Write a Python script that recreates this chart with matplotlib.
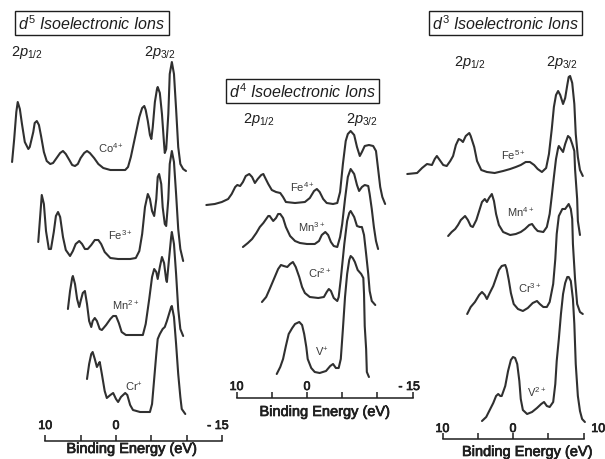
import matplotlib
matplotlib.use("Agg")
import matplotlib.pyplot as plt
import matplotlib.patheffects as pe

plt.rcParams['font.family'] = ['Liberation Sans', 'DejaVu Sans']
plt.rcParams['mathtext.fontset'] = 'custom'
plt.rcParams['mathtext.rm'] = 'Liberation Sans'
plt.rcParams['mathtext.it'] = 'Liberation Sans:italic'
plt.rcParams['mathtext.bf'] = 'Liberation Sans:bold'

# binding energy (eV) and intensity (arb. units, above each trace's own baseline)

# d5 ions
co4_energy = [14.7, 14.4, 14.1, 13.9, 13.6, 13.3, 12.9, 12.4, 12.2, 11.7,
              11.5, 11.2, 10.9, 10.6, 10.2, 9.8, 9.3, 8.9, 8.3, 7.9,
              7.5, 7.1, 6.6, 6.2, 5.8, 5.4, 5.0, 4.5, 4.1, 3.7,
              3.1, 2.5, 1.8, 0.8, -0.3, -1.3, -1.7, -2.1, -2.7, -3.3,
              -3.7, -4.0, -4.2, -4.5, -4.8, -5.0, -5.2, -5.5, -5.8, -5.9,
              -6.2, -6.5, -6.8, -6.9, -7.1, -7.4, -7.6, -7.9, -8.2, -8.5,
              -8.8, -9.1, -9.5, -9.9]
co4_counts = [0.8, 3.1, 5.8, 6.8, 6.1, 4.6, 2.8, 2.1, 2.3, 3.8,
              4.7, 4.9, 4.5, 3.4, 1.8, 0.9, 0.6, 0.7, 1.3, 1.7,
              1.9, 1.6, 1.0, 0.5, 0.4, 0.6, 1.2, 1.7, 1.9, 1.7,
              1.2, 0.6, 0.2, 0.0, 0.0, 0.0, 0.3, 1.3, 3.3, 5.3,
              6.2, 6.4, 6.0, 4.9, 3.5, 3.1, 4.3, 6.8, 8.1, 8.3,
              7.7, 5.6, 2.6, 1.7, 2.1, 5.6, 9.6, 10.8, 9.6, 6.1,
              2.3, 0.6, 0.1, -0.1]

fe3_energy = [11.0, 10.7, 10.5, 10.2, 9.9, 9.5, 9.2, 8.8, 8.5, 8.2,
              7.9, 7.5, 7.1, 6.5, 6.1, 5.7, 5.2, 4.8, 4.4, 4.0,
              3.5, 3.0, 2.5, 2.1, 1.6, 0.8, -0.3, -2.0, -2.8, -3.3,
              -3.7, -4.1, -4.5, -4.8, -5.1, -5.4, -5.7, -5.9, -6.1, -6.4,
              -6.6, -6.9, -7.1, -7.4, -7.6, -7.9, -8.2, -8.5, -8.8, -9.1,
              -9.5]
fe3_counts = [1.7, 4.5, 6.4, 5.5, 2.8, 1.0, 1.0, 2.7, 4.3, 4.7,
              4.2, 2.2, 0.9, 0.3, 0.8, 1.5, 1.8, 1.5, 1.0, 1.0,
              1.4, 1.9, 1.9, 1.5, 0.7, 0.1, 0.0, 0.0, 0.1, 0.8,
              2.5, 5.2, 6.5, 6.0, 4.8, 4.3, 6.0, 8.2, 8.5, 7.5,
              5.2, 3.5, 3.3, 6.0, 9.5, 10.8, 9.7, 6.5, 3.0, 1.0,
              -0.2]

mn2_energy = [6.8, 6.5, 6.2, 6.1, 5.8, 5.5, 5.2, 5.0, 4.7, 4.4,
              4.1, 3.8, 3.5, 3.3, 3.0, 2.7, 2.3, 2.0, 1.4, 0.8,
              0.4, 0.0, -0.4, -0.8, -1.4, -2.7, -3.8, -4.2, -4.7, -5.1,
              -5.4, -5.7, -5.9, -6.2, -6.5, -6.8, -7.1, -7.2, -7.5, -7.8,
              -7.9, -8.2, -8.5, -8.8, -9.1, -9.5]
mn2_counts = [2.6, 4.4, 5.7, 5.9, 5.1, 3.6, 2.8, 3.4, 4.2, 4.4,
              3.1, 1.4, 0.8, 1.4, 1.7, 1.4, 0.6, 0.5, 1.0, 1.6,
              1.9, 1.9, 1.2, 0.3, 0.0, 0.0, 0.0, 1.1, 3.6, 5.8,
              6.6, 6.3, 5.6, 6.8, 7.8, 7.2, 5.5, 5.3, 7.6, 9.8,
              10.3, 9.1, 6.1, 2.6, 0.6, -0.1]

cr1_energy = [4.1, 3.8, 3.5, 3.3, 3.0, 2.7, 2.4, 2.3, 2.0, 1.6,
              1.3, 0.8, 0.4, 0.0, -0.3, -0.7, -1.3, -1.6, -2.0, -2.4,
              -3.4, -4.8, -5.1, -5.4, -5.7, -5.9, -6.2, -6.6, -6.9, -7.2,
              -7.5, -7.8, -7.9, -8.2, -8.5, -8.8, -9.1, -9.3, -9.8]
cr1_counts = [3.4, 4.9, 5.9, 6.1, 5.4, 4.6, 5.0, 5.1, 3.9, 2.2,
              1.5, 1.8, 2.0, 1.4, 1.1, 1.6, 2.0, 1.8, 0.8, 0.3,
              0.1, 0.1, 0.9, 3.4, 5.9, 7.4, 7.9, 8.4, 8.6, 9.2,
              9.9, 10.6, 10.7, 9.6, 6.9, 3.9, 1.6, 0.4, -0.1]

# d4 ions
fe4_energy = [14.3, 13.1, 12.1, 11.2, 10.7, 10.2, 9.9, 9.5, 9.1, 8.7,
              8.2, 7.8, 7.4, 7.0, 6.5, 6.2, 6.0, 5.5, 5.0, 4.4,
              3.8, 3.4, 3.0, 1.7, 0.3, -0.4, -1.0, -1.4, -1.8, -2.3,
              -2.8, -3.7, -4.3, -4.7, -5.1, -5.5, -5.8, -6.2, -6.7, -7.1,
              -7.5, -7.8, -8.2, -8.8, -9.4, -9.8, -10.1, -10.4, -10.7, -11.1]
fe4_counts = [-0.1, 0.0, 0.2, 0.5, 1.0, 1.7, 1.9, 1.8, 2.2, 2.8,
              3.0, 2.7, 2.1, 2.5, 2.9, 3.0, 2.7, 2.0, 1.4, 1.2,
              1.1, 0.7, 0.2, 0.1, 0.2, 0.6, 1.3, 1.5, 1.2, 0.5,
              0.1, 0.0, 0.1, 1.2, 4.0, 6.3, 7.0, 7.3, 6.9, 5.7,
              4.8, 5.2, 5.8, 5.9, 5.8, 5.3, 3.5, 1.7, 0.7, 0.0]

mn3_energy = [9.1, 8.4, 7.8, 7.2, 6.7, 6.2, 5.8, 5.5, 5.3, 4.8,
              4.4, 4.1, 3.8, 3.4, 3.0, 2.4, 1.7, 1.0, 0.0, -1.1,
              -1.7, -2.1, -2.6, -3.0, -3.4, -3.8, -4.3, -4.7, -5.0, -5.4,
              -5.8, -6.2, -6.7, -7.1, -7.4, -7.8, -8.2, -8.7, -8.9, -9.2,
              -9.5, -9.8, -10.1]
mn3_counts = [0.0, 0.4, 0.8, 1.4, 2.0, 2.4, 2.8, 3.1, 3.1, 2.6,
              2.9, 3.3, 3.3, 2.9, 2.0, 1.1, 0.6, 0.4, 0.3, 0.3,
              0.6, 1.2, 1.5, 1.2, 0.5, 0.1, 0.0, 1.0, 2.3, 4.8,
              7.0, 7.8, 7.3, 6.2, 5.6, 6.0, 6.2, 6.1, 5.3, 3.8,
              2.0, 0.6, -0.2]

cr2_energy = [6.4, 5.8, 5.3, 4.7, 4.1, 3.7, 3.3, 2.8, 2.4, 2.0,
              1.6, 1.1, 0.7, 0.3, -0.4, -1.6, -2.4, -2.8, -3.1, -3.4,
              -3.8, -4.3, -4.5, -4.8, -5.3, -5.7, -6.0, -6.2, -6.7, -7.1,
              -7.5, -7.8, -8.1, -8.4, -8.7, -8.9, -9.2, -9.7]
cr2_counts = [0.2, 0.7, 1.5, 2.5, 3.5, 3.9, 3.8, 3.7, 4.0, 4.2,
              3.7, 2.7, 1.7, 1.1, 0.7, 0.6, 0.7, 1.2, 1.5, 1.3,
              0.6, 0.3, 0.7, 2.5, 6.0, 8.3, 9.1, 9.3, 8.7, 7.8,
              7.7, 7.7, 6.9, 5.0, 3.0, 1.3, 0.3, -0.1]

v1_energy = [4.3, 3.8, 3.4, 3.0, 2.6, 2.1, 1.7, 1.1, 0.7, 0.4,
             0.1, -0.1, -0.6, -1.1, -1.8, -2.7, -3.3, -3.7, -4.1, -4.5,
             -4.8, -5.1, -5.4, -5.7, -6.0, -6.2, -6.5, -6.8, -7.2, -7.7,
             -8.0, -8.1, -8.2, -8.4, -8.5, -8.8]
v1_counts = [0.0, 0.7, 1.5, 2.8, 4.0, 4.6, 5.0, 5.2, 4.9, 4.0,
             2.7, 1.5, 0.6, 0.2, 0.1, 0.3, 0.8, 1.0, 0.6, 0.6,
             1.5, 4.5, 7.7, 10.0, 11.4, 11.8, 11.6, 11.2, 10.4, 10.0,
             9.6, 8.0, 4.8, 2.5, 0.2, -0.3]

# d3 ions
fe5_energy = [15.0, 13.6, 12.9, 12.2, 11.5, 11.1, 10.8, 10.4, 9.9, 9.4,
              8.9, 8.5, 8.1, 7.7, 7.4, 7.1, 6.7, 6.2, 6.0, 5.5,
              5.1, 4.5, 3.7, 2.6, 1.4, 0.4, -0.4, -1.1, -1.8, -2.4,
              -3.0, -3.5, -4.1, -4.7, -5.1, -5.5, -5.8, -6.1, -6.4, -6.7,
              -7.1, -7.4, -7.7, -7.9, -8.1, -8.4, -8.7, -8.9, -9.2, -9.5,
              -9.9]
fe5_counts = [-0.1, 0.0, 0.5, 0.9, 0.8, 1.4, 1.7, 1.3, 0.8, 0.7,
              1.2, 1.7, 2.8, 3.4, 3.3, 3.1, 3.7, 4.0, 3.7, 2.6,
              1.2, 0.3, 0.1, 0.0, 0.2, 0.4, 0.6, 0.8, 1.1, 1.1,
              0.8, 0.4, 0.1, 0.5, 1.9, 4.4, 6.6, 7.8, 8.2, 7.8,
              6.9, 7.5, 8.8, 9.6, 9.7, 9.0, 6.9, 3.9, 1.6, 0.3,
              -0.3]

mn4_energy = [9.2, 8.7, 8.2, 7.8, 7.4, 6.8, 6.4, 6.0, 5.7, 5.2,
              4.8, 4.4, 4.0, 3.7, 3.4, 3.0, 2.7, 2.4, 2.0, 1.4,
              0.4, -0.4, -1.1, -1.7, -2.3, -2.7, -3.1, -3.5, -4.3, -4.8,
              -5.2, -5.5, -5.8, -6.1, -6.4, -6.5, -6.8, -7.1, -7.4, -7.8,
              -8.1, -8.4, -8.7, -8.8, -9.1, -9.2, -9.5]
mn4_counts = [-0.1, 0.3, 0.6, 1.0, 1.5, 1.9, 1.5, 0.9, 0.8, 1.5,
              2.4, 3.3, 3.6, 3.3, 3.7, 4.1, 3.4, 2.1, 1.0, 0.3,
              0.0, 0.1, 0.3, 0.6, 1.0, 1.1, 0.7, 0.4, 0.3, 0.8,
              2.1, 3.9, 5.8, 7.6, 8.7, 8.9, 8.6, 8.3, 9.1, 9.9,
              9.7, 9.1, 8.4, 6.6, 3.6, 1.4, 0.0]

cr3_energy = [6.5, 6.0, 5.4, 4.8, 4.4, 4.0, 3.7, 3.3, 2.8, 2.4,
              2.0, 1.6, 1.1, 0.9, 0.6, 0.3, -0.1, -0.7, -1.4, -2.1,
              -2.8, -3.4, -3.8, -4.3, -4.8, -5.2, -5.7, -6.0, -6.2, -6.5,
              -7.0, -7.4, -7.7, -7.9, -8.2, -8.4, -8.5, -8.8, -9.1, -9.5,
              -9.9]
cr3_counts = [-0.3, 0.4, 0.9, 1.6, 1.9, 1.6, 1.2, 1.8, 2.5, 3.3,
              4.1, 4.5, 4.6, 4.2, 3.1, 1.8, 0.7, 0.2, 0.0, 0.3,
              0.8, 1.0, 0.7, 0.4, 0.4, 0.9, 2.7, 5.2, 7.7, 9.5,
              10.2, 10.2, 10.5, 10.7, 10.2, 9.2, 6.7, 3.2, 0.7, -0.1,
              -0.3]

v2_energy = [4.4, 3.8, 3.3, 2.8, 2.4, 2.1, 1.8, 1.6, 1.1, 0.7,
             0.3, 0.0, -0.3, -0.6, -0.9, -1.1, -1.4, -2.0, -2.7, -3.4,
             -4.0, -4.4, -4.8, -5.2, -5.7, -6.0, -6.2, -6.5, -6.8, -7.1,
             -7.4, -7.7, -7.9, -8.2, -8.5, -8.7, -8.9, -9.2, -9.5, -9.8,
             -10.2]
v2_counts = [-0.7, -0.3, 0.4, 1.1, 1.8, 2.0, 1.8, 1.8, 2.8, 4.3,
             5.4, 5.7, 5.6, 5.0, 3.3, 1.5, 0.4, 0.0, 0.2, 0.6,
             1.0, 1.2, 0.8, 0.7, 1.2, 3.0, 5.3, 7.5, 10.0, 12.0,
             13.1, 13.7, 13.7, 13.3, 11.5, 9.0, 5.0, 1.8, 0.3, -0.5,
             -0.8]

d5_labels = ['Co$^{4+}$', 'Fe$^{3+}$', 'Mn$^{2+}$', 'Cr$^{+}$']
d4_labels = ['Fe$^{4+}$', 'Mn$^{3+}$', 'Cr$^{2+}$', 'V$^{+}$']
d3_labels = ['Fe$^{5+}$', 'Mn$^{4+}$', 'Cr$^{3+}$', 'V$^{2+}$']

LINE = '#303030'
INK = '#1e1e1e'
W, H = 605, 460
heavy = [pe.withStroke(linewidth=0.5, foreground=INK)]

fig = plt.figure(figsize=(6.05, 4.6), dpi=100)
fig.patch.set_facecolor('white')


def panel(px_left, px_right, zero_px, px_per_ev):
    ax = fig.add_axes([px_left / W, 0, (px_right - px_left) / W, 1])
    ax.set_xlim((zero_px - px_left) / px_per_ev, (zero_px - px_right) / px_per_ev)
    ax.set_ylim(0, 46)
    ax.patch.set_visible(False)
    for s in ['top', 'left', 'right']:
        ax.spines[s].set_visible(False)
    ax.yaxis.set_visible(False)
    return ax


def energy_axis(ax, axis_y, hi, lo, ticks, ticklabels, lab_y, xlab_x, xlab_y):
    sp = ax.spines['bottom']
    sp.set_position(('data', axis_y))
    sp.set_bounds(lo, hi)
    sp.set_linewidth(1.1)
    sp.set_color(INK)
    ax.set_xticks(ticks)
    ax.tick_params(axis='x', direction='in', length=4, width=1.1,
                   color=INK, labelbottom=False)
    for e, t in ticklabels:
        ax.text(e, lab_y, t, ha='center', va='center', fontsize=9, color=INK,
                path_effects=heavy)
    ax.text(xlab_x, xlab_y, 'Binding Energy (eV)', ha='center', va='center',
            fontsize=10.5, color=INK, path_effects=heavy)


def header(ax, title, tx, ty, p12x, p32x, py):
    ax.text(tx, ty, title, ha='center', va='center', fontsize=11.5,
            style='italic', color=INK,
            bbox=dict(boxstyle='square,pad=0.18', fc='white', ec=INK, lw=1.0))
    ax.text(p12x, py, r'2$p_{1/2}$', ha='center', va='center', fontsize=10.5, color=INK)
    ax.text(p32x, py, r'2$p_{3/2}$', ha='center', va='center', fontsize=10.5, color=INK)


def trace(ax, energy, counts, offset, label, lx, ly):
    ax.plot(energy, [offset + c for c in counts], color=LINE, lw=1.5,
            solid_joinstyle='round', solid_capstyle='round')
    ax.text(lx, ly, label, ha='center', va='center', fontsize=8, color='#3a3a3a')


# left: d5
ax1 = panel(0, 230, 116, 7.07)
header(ax1, r'$d^{5}$ Isoelectronic Ions', 3.4, 43.6, 12.6, -6.2, 40.8)
trace(ax1, co4_energy, co4_counts, 28.9, d5_labels[0], 0.7, 31.2)
trace(ax1, fe3_energy, fe3_counts, 20.0, d5_labels[1], -0.6, 22.5)
trace(ax1, mn2_energy, mn2_counts, 12.4, d5_labels[2], -1.3, 15.5)
trace(ax1, cr1_energy, cr1_counts, 4.6, d5_labels[3], -2.5, 7.3)
energy_axis(ax1, 1.8, 10, -15, [10, 5, 0, -5, -10, -15],
            [(10, '10'), (0, '0'), (-14.4, '- 15')], 3.3, -2.3, 1.0)

# middle: d4
ax2 = panel(200, 430, 307, 7.04)
header(ax2, r'$d^{4}$ Isoelectronic Ions', 0.6, 36.8, 6.8, -7.8, 34.1)
trace(ax2, fe4_energy, fe4_counts, 25.5, d4_labels[0], 0.6, 27.3)
trace(ax2, mn3_energy, mn3_counts, 21.2, d4_labels[1], -0.6, 23.3)
trace(ax2, cr2_energy, cr2_counts, 15.5, d4_labels[2], -1.8, 18.7)
trace(ax2, v1_energy, v1_counts, 8.5, d4_labels[3], -2.1, 10.8)
energy_axis(ax2, 6.1, 10, -15, [10, 5, 0, -5, -10, -15],
            [(10, '10'), (0, '0'), (-14.5, '- 15')], 7.2, -2.6, 4.7)

# right: d3
ax3 = panel(400, 605, 513, 7.05)
header(ax3, r'$d^{3}$ Isoelectronic Ions', 1.1, 43.6, 6.1, -7.0, 39.8)
trace(ax3, fe5_energy, fe5_counts, 28.6, d3_labels[0], 0.0, 30.5)
trace(ax3, mn4_energy, mn4_counts, 22.4, d3_labels[1], -1.1, 24.8)
trace(ax3, cr3_energy, cr3_counts, 14.8, d3_labels[2], -2.4, 17.2)
trace(ax3, v2_energy, v2_counts, 4.5, d3_labels[3], -3.4, 6.8)
energy_axis(ax3, 2.0, 10, -10, [10, 5, 0, -5, -10],
            [(10, '10'), (0, '0'), (-12.1, '10')], 3.0, -2.1, 0.7)

fig.savefig('out.png', dpi=100, facecolor='white')
